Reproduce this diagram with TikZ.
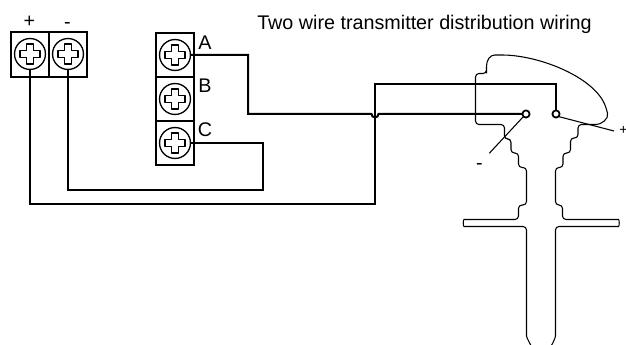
\documentclass[tikz,border=0pt]{standalone}
\usepackage{fontspec}
\setmainfont{Liberation Sans}
\tikzset{
  x=0.75pt,y=-0.75pt,
  wire/.style={draw=black,line width=1.5pt,line join=miter},
  leadline/.style={draw=black,line width=0.8pt},
  outline/.style={draw=black,line width=0.8pt,rounded corners=2.6pt},
  cell/.style={draw=black,line width=1.35pt,rectangle,inner sep=0pt,outer sep=0pt,minimum width=28.5pt,minimum height=33pt},
  screwc/.style={draw=black,line width=1pt,circle,inner sep=0pt,outer sep=0pt,minimum size=23.2pt},
  term/.style={draw=black,line width=1.3pt,circle,fill=white,inner sep=0pt,outer sep=0pt,minimum size=5.4pt},
  lbl/.style={font=\fontsize{14.8pt}{17pt}\selectfont,inner sep=0pt,text=black},
  crosshead/.pic={
    \draw[line width=0.9pt,line join=round] (-3.5,-10) -- (3.5,-10) -- (3.5,-3.5) -- (10,-3.5) -- (10,3.5) -- (3.5,3.5) -- (3.5,10) -- (-3.5,10) -- (-3.5,3.5) -- (-10,3.5) -- (-10,-3.5) -- (-3.5,-3.5) -- cycle;
  }
}
\begin{document}
\begin{tikzpicture}
\useasboundingbox (0,0) rectangle (626,345);
% left terminal block
\node[cell,minimum height=33.75pt] (l1) at (30,54.5) {};
\node[cell,minimum height=33.75pt] (l2) at (68,54.5) {};
\node[screwc] (sp) at (30,54) {};
\node[screwc] (sm) at (68,54) {};
\pic at (sp) {crosshead};
\pic at (sm) {crosshead};
\node[lbl] (plus1) at (29.3,22) {+};
\node[lbl] (minus1) at (67.5,25) {-};
% middle terminal block
\node[cell] (m1) at (175,55) {};
\node[cell] (m2) at (175,99) {};
\node[cell] (m3) at (175,143) {};
\node[screwc] (sa) at (175,55) {};
\node[screwc] (sb) at (175,99) {};
\node[screwc] (sc) at (175,143) {};
\pic at (sa) {crosshead};
\pic at (sb) {crosshead};
\pic at (sc) {crosshead};
\node[lbl] (A) at (205,43) {A};
\node[lbl] (B) at (205,86) {B};
\node[lbl] (C) at (205,130) {C};
\node[lbl,anchor=west] (title) at (257,24) {Two wire transmitter distribution wiring};
% transmitter terminals
\node[term] (tm) at (526,114) {};
\node[term] (tp) at (556,114) {};
\coordinate (em) at (489.3,153.3);
\coordinate (ep) at (614,131);
% outline
\draw[outline] (530.7,345) .. controls (528,340) and (526.5,337) .. (526.5,332)
  -- (526.5,226.5) -- (467.5,226.5)
  .. controls (463,226.5) and (463,219.5) .. (467.5,219.5)
  -- (518.5,219.5) -- (518.5,205) -- (526.5,205) -- (526.5,167.5)
  -- (518.5,167.5) -- (518.5,153) -- (511,153) -- (511,139) -- (504.5,139) -- (504.5,124.5)
  -- (475.5,124.5) -- (475.5,73.5) -- (486.5,73.5) -- (486.5,70)
  .. controls (486.5,60) and (490,55) .. (498.3,55)
  .. controls (540,55) and (596,78) .. (606.7,110)
  .. controls (609,119) and (601,124.5) .. (593,124.5)
  -- (578,124.5) -- (578,138) -- (570.5,138) -- (570.5,153) -- (563,153) -- (563,167.5) -- (555.5,167.5)
  -- (555.5,205) -- (562.5,205) -- (562.5,219.5) -- (615,219.5)
  .. controls (619.5,219.5) and (619.5,226.5) .. (615,226.5)
  -- (555.5,226.5) -- (555.5,332)
  .. controls (555.5,337) and (554,341) .. (551.7,345);
% wires
\draw[wire] (sa.east) -- (248,55) -- (248,114) -- (371.5,114)
  arc[start angle=180,end angle=0,radius=3.5] -- (tm.west);
\draw[wire] (sc.east) -- (263,143) -- (263,190) -- (68,190) -- (sm.south);
\draw[wire] (sp.south) -- (30,204) -- (375,204) -- (375,84) -- (556,84) -- (tp.north);
% leads
\draw[leadline] (tm.south west) -- (em);
\draw[leadline] (tp.south east) -- (ep);
\node[lbl] (m2lbl) at (479.5,166.5) {-};
\node[lbl,font=\fontsize{10.5pt}{12pt}\selectfont,anchor=west] (p2) at (619,130.7) {+};
\end{tikzpicture}
\end{document}
